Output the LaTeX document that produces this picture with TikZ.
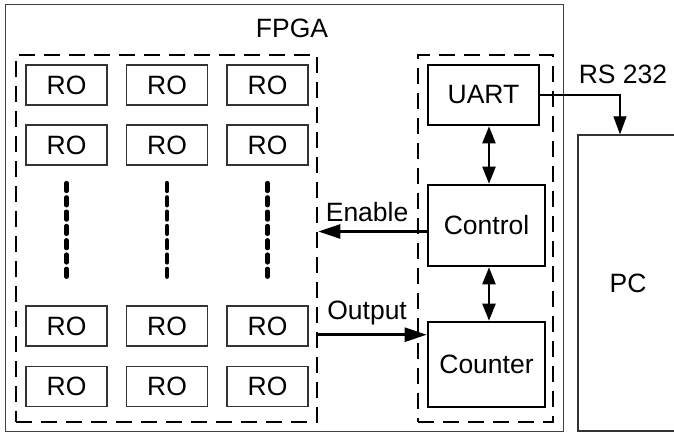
\documentclass[tikz,border=0pt]{standalone}
\usepackage{fontspec}
\setmainfont{Liberation Sans}
\usetikzlibrary{arrows.meta}

\tikzset{
  txt/.style={font=\fontsize{26.5}{31}\selectfont, inner sep=0pt},
  robox/.style={txt, draw=black!80, line width=1.3pt, minimum width=81pt, minimum height=40pt},
  blockbox/.style={txt, draw=black, line width=2.6pt},
  groupbox/.style={draw=black, line width=2.6pt, dash pattern=on 16pt off 9pt},
  dotcol/.style={line width=4.2pt, dash pattern=on 8pt off 6.3pt, line cap=round},
  sig/.style={line width=2.6pt, -{Triangle[length=22pt,width=14pt]}},
  bus/.style={line width=2.2pt, {Triangle[length=17pt,width=13pt]}-{Triangle[length=17pt,width=13pt]}},
  serial/.style={line width=1.2pt, -{Triangle[length=18pt,width=13pt]}},
}

\begin{document}
\begin{tikzpicture}[x=1pt,y=-1pt]
\useasboundingbox (0,0) rectangle (674,434);
\clip (0,0) rectangle (674,434);
\fill[white] (0,0) rectangle (674,434);

% FPGA outline and title
\draw[draw=black!75, line width=1.4pt] (5.5,4.5) rectangle (563.5,431.5);
\node[txt] (fpga) at (292,28) {FPGA};

% ring-oscillator array group
\node[groupbox, minimum width=301pt, minimum height=367pt, inner sep=0pt] (roarr) at (166.5,238.5) {};
% control logic group
\node[groupbox, minimum width=135pt, minimum height=367pt, inner sep=0pt] (ctlgrp) at (485.5,238.5) {};

% ring oscillators
\foreach \c/\x in {1/66.5,2/167,3/267.5}{
  \foreach \r/\y in {1/85,2/145,4/326,5/386.5}{
    \node[robox] (ro\r\c) at (\x,\y) {RO};
  }
  \coordinate (dtop\c) at (\x,183);
  \coordinate (dbot\c) at (\x,281);
  \draw[dotcol] (dtop\c) -- (dbot\c);
}

% control blocks
\node[blockbox, minimum width=111pt, minimum height=60pt] (uart) at (483.5,95) {UART};
\node[blockbox, minimum width=117pt, minimum height=81pt] (ctrl) at (486.5,225.5) {Control};
\node[blockbox, minimum width=117pt, minimum height=85pt] (cnt) at (486.5,364.5) {Counter};

% PC
\node[txt, draw=black!80, line width=1.3pt, minimum width=100pt, minimum height=296pt] (pc) at (628,283) {PC};

% connections
\draw[bus] ([xshift=2.5pt]uart.south -| ctrl.north) -- ([xshift=2.5pt]ctrl.north);
\draw[bus] ([xshift=2.5pt]ctrl.south) -- ([xshift=2.5pt]cnt.north);
\draw[sig] ([yshift=-6pt]ctrl.west) -- ([yshift=-6pt]ctrl.west -| roarr.east)
  node[txt, pos=0.55, above=8pt] (enlbl) {Enable};
\draw[sig] ([yshift=-14pt]cnt.north west -| roarr.east) -- ([yshift=-14pt]cnt.north west)
  node[txt, pos=0.45, above=8pt] (outlbl) {Output};
\draw[serial] (uart.east) -| ([xshift=-8pt]pc.north);
\node[txt] (rslbl) at (623,74) {RS 232};
\end{tikzpicture}
\end{document}
